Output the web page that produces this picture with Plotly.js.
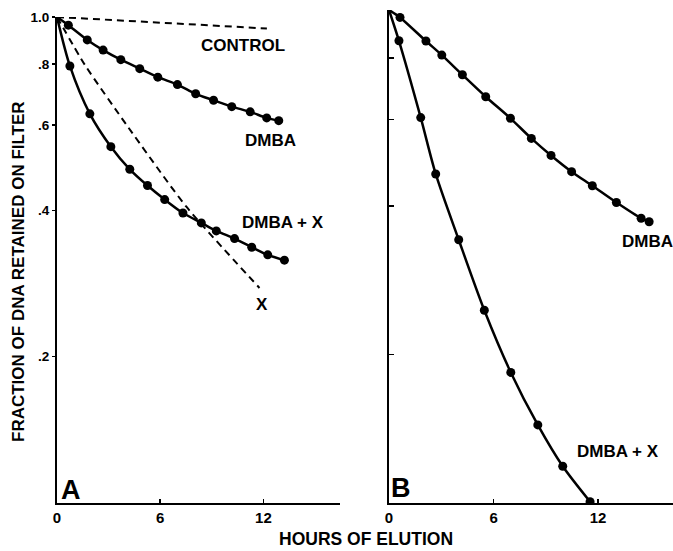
<!DOCTYPE html>
<html>
<head>
<meta charset="utf-8">
<script src="https://cdn.plot.ly/plotly-3.0.1.min.js"></script>
<style>html,body{margin:0;padding:0;background:#fff;}#chart{width:673px;height:551px;}</style>
</head>
<body>
<div id="chart"></div>
<script>
// Panel A (hours of elution vs fraction retained)
const aControlHours = [0, 12.2];
const aControlFrac  = [1.0, 0.947];

const aXHours = [0, 1.62, 4.04, 7.52, 11.77];
const aXFrac  = [1.0, 0.797, 0.600, 0.407, 0.277];

const aDmbaHours = [0, 0.66, 1.76, 2.68, 3.71, 4.81, 5.86, 7.0, 8.06, 9.1, 10.16, 11.23, 12.19, 12.89];
const aDmbaFrac  = [1.0, 0.962, 0.897, 0.855, 0.817, 0.783, 0.752, 0.726, 0.695, 0.674, 0.654, 0.638, 0.620, 0.612];

const aDmbaXHours = [0, 0.75, 1.91, 3.13, 4.23, 5.26, 6.26, 7.32, 8.39, 9.26, 10.32, 11.32, 12.25, 13.22];
const aDmbaXFrac  = [1.0, 0.793, 0.632, 0.541, 0.486, 0.450, 0.421, 0.395, 0.377, 0.363, 0.350, 0.336, 0.324, 0.316];

// Panel B
const bDmbaHours = [0, 0.63, 2.12, 3.03, 4.21, 5.55, 6.97, 8.17, 9.30, 10.48, 11.67, 13.05, 14.47, 14.93];
const bDmbaFrac  = [1.0, 0.966, 0.865, 0.810, 0.739, 0.667, 0.603, 0.549, 0.507, 0.470, 0.440, 0.407, 0.378, 0.372];

const bDmbaXHours = [0, 0.57, 1.82, 2.68, 4.00, 5.47, 6.99, 8.54, 9.97, 11.54];
const bDmbaXFrac  = [1.0, 0.866, 0.605, 0.465, 0.342, 0.246, 0.184, 0.144, 0.1187, 0.1006];

const yTickVals = [0.2, 0.4, 0.6, 0.8, 1.0];
const yTickText = ['.2', '.4', '.6', '.8', '1.0'];
const xTickVals = [0, 6, 12];
const xTickText = ['0', '6', '12'];

const FONT = 'Liberation Sans, Arial, sans-serif';

function sizes(arr) { return arr.map((_, i) => i === 0 ? 0 : 9); }

function solid(x, y, xa, ya) {
  return {
    x: x, y: y, xaxis: xa, yaxis: ya, type: 'scatter', mode: 'lines+markers',
    line: {color: '#000', width: 2.5, shape: 'spline', smoothing: 0.8},
    marker: {color: '#000', size: sizes(x), opacity: 1, line: {width: 0}},
    hoverinfo: 'none', showlegend: false
  };
}
function dashed(x, y, xa, ya) {
  return {
    x: x, y: y, xaxis: xa, yaxis: ya, type: 'scatter', mode: 'lines',
    line: {color: '#000', width: 2, dash: '7px,5px', shape: 'spline', smoothing: 0.6},
    hoverinfo: 'none', showlegend: false
  };
}

const data = [
  dashed(aControlHours, aControlFrac, 'x', 'y'),
  dashed(aXHours, aXFrac, 'x', 'y'),
  solid(aDmbaHours, aDmbaFrac, 'x', 'y'),
  solid(aDmbaXHours, aDmbaXFrac, 'x', 'y'),
  solid(bDmbaHours, bDmbaFrac, 'x2', 'y2'),
  solid(bDmbaXHours, bDmbaXFrac, 'x2', 'y2')
];

function lbl(text, x, y, size, extra) {
  return Object.assign({
    text: text, x: x, y: y, xref: 'paper', yref: 'paper', showarrow: false,
    xanchor: 'center', yanchor: 'middle',
    font: {family: FONT, size: size, color: '#000', weight: 'bold'}
  }, extra || {});
}

const axisCommon = {
  showgrid: false, zeroline: false, showline: true, linecolor: '#000', linewidth: 2,
  ticks: 'inside', ticklen: 4, tickwidth: 1.5, tickcolor: '#000',
  tickfont: {family: FONT, size: 15, color: '#000', weight: 'bold'}
};

const layout = {
  width: 673, height: 551,
  margin: {l: 57, r: 0, t: 10, b: 48, pad: 0},
  paper_bgcolor: '#fff', plot_bgcolor: '#fff',
  xaxis: Object.assign({}, axisCommon, {
    domain: [0, 0.4594], range: [0, 16.45], anchor: 'y',
    tickmode: 'array', tickvals: xTickVals, ticktext: xTickText
  }),
  yaxis: Object.assign({}, axisCommon, {
    type: 'log', range: [-1, 0], domain: [0, 0.9858], anchor: 'x',
    tickmode: 'array', tickvals: yTickVals, ticktext: yTickText,
    ticks: 'outside', ticklen: 3,
    tickfont: {family: FONT, size: 13.5, color: '#000', weight: 'bold'}
  }),
  xaxis2: Object.assign({}, axisCommon, {
    domain: [0.539, 1], range: [0, 16.3], anchor: 'y2',
    tickmode: 'array', tickvals: xTickVals, ticktext: xTickText
  }),
  yaxis2: Object.assign({}, axisCommon, {
    type: 'log', range: [-1, 0], domain: [0, 1], anchor: 'x2',
    tickmode: 'array', tickvals: yTickVals, ticktext: yTickText,
    showticklabels: false, ticklen: 5
  }),
  annotations: [
    lbl('CONTROL', 0.302, 0.929, 17),
    lbl('DMBA', 0.347, 0.736, 17),
    lbl('DMBA + X', 0.367, 0.568, 17),
    lbl('X', 0.333, 0.402, 17),
    lbl('A', 0.0235, 0.026, 27),
    lbl('B', 0.558, 0.030, 27),
    lbl('DMBA', 0.958, 0.531, 17),
    lbl('DMBA + X', 0.911, 0.104, 17),
    lbl('FRACTION OF DNA RETAINED ON FILTER', -0.0617, 0.4706, 17, {textangle: -90}),
    lbl('HOURS OF ELUTION', 0.5016, -0.073, 17.5)
  ]
};

Plotly.newPlot('chart', data, layout, {staticPlot: true, displayModeBar: false});
</script>
</body>
</html>
